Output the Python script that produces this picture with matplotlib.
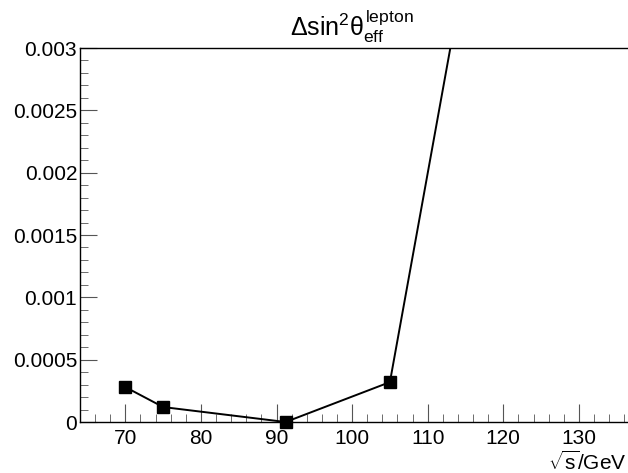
import numpy as np
import matplotlib
matplotlib.use("Agg")
import matplotlib.pyplot as plt
from matplotlib.ticker import MultipleLocator

plt.rcParams['font.family'] = ['Liberation Sans', 'DejaVu Sans']
plt.rcParams['mathtext.fontset'] = 'custom'
plt.rcParams['mathtext.rm'] = 'Liberation Sans'
plt.rcParams['mathtext.it'] = 'Liberation Sans'

# sqrt(s) in GeV and the shift in sin^2 theta_eff
energy = [70, 75, 91.2, 105, 130]
delta_sin2 = [0.00028, 0.00012, 0.0, 0.00032, 0.0087]
ymax = 0.003

fig = plt.figure(figsize=(6.28, 4.73), dpi=100)
ax = fig.add_axes([0.1274, 0.1078, 0.8726, 0.7907])

ax.plot(energy, delta_sin2, color='black', lw=1.4)
inside = [(x, y) for x, y in zip(energy, delta_sin2) if y <= ymax]
ax.plot([p[0] for p in inside], [p[1] for p in inside], ls='none', marker='s',
        ms=9, mfc='black', mec='black', clip_on=False, zorder=5)

ax.set_xlim(64, 136.5)
ax.set_ylim(0, ymax)

ax.xaxis.set_major_locator(MultipleLocator(10))
ax.xaxis.set_minor_locator(MultipleLocator(2))
ax.yaxis.set_minor_locator(MultipleLocator(0.0001))
ax.set_yticks([0, 0.0005, 0.001, 0.0015, 0.002, 0.0025, 0.003])
ax.set_yticklabels(['0', '0.0005', '0.001', '0.0015', '0.002', '0.0025', '0.003'])

ax.tick_params(which='both', direction='in', top=False, right=False,
               labelsize=15, color='#555555')
ax.tick_params(axis='y', which='major', length=12, pad=2)
ax.tick_params(which='minor', length=6)
ax.tick_params(axis='x', which='major', length=13, pad=5)

ax.spines['right'].set_visible(False)
for s in ['left', 'bottom', 'top']:
    ax.spines[s].set_linewidth(1.0)

fig.text(0.56, 0.945, r'$\Delta\mathrm{sin}^{2}\theta^{\mathrm{lepton}}_{\mathrm{eff}}$',
         ha='center', va='center', fontsize=18)
fig.text(0.998, 0.022, r'$\sqrt{\mathrm{s}}$/GeV', ha='right', va='center', fontsize=15)

fig.savefig('out.png', dpi=100)
